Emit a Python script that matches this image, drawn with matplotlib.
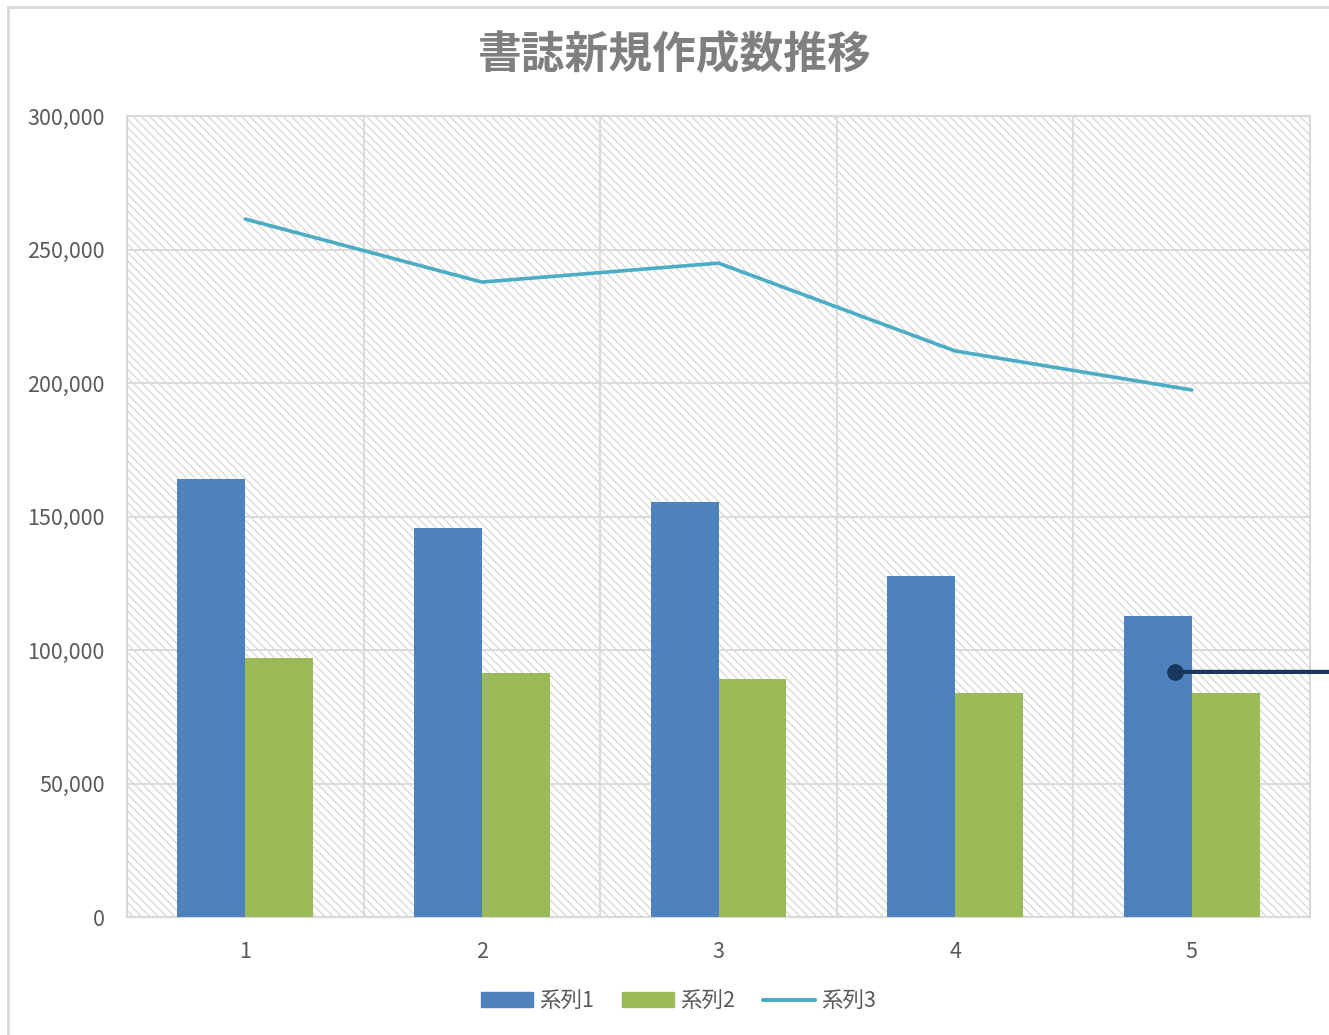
import matplotlib
matplotlib.use("Agg")
import matplotlib.pyplot as plt
import matplotlib.patches as mpatches
from matplotlib.ticker import FuncFormatter
import numpy as np

plt.rcParams['font.family'] = ['Noto Sans CJK JP', 'DejaVu Sans']
plt.rcParams['hatch.linewidth'] = 0.9
plt.rcParams['hatch.color'] = '#d6d6d6'

# data
categories = [1, 2, 3, 4, 5]
series1 = [164000, 145700, 155400, 127700, 112700]
series2 = [97000, 91400, 89100, 83900, 83900]
series3 = [261400, 237800, 244900, 212000, 197400]
labels = ["系列1", "系列2", "系列3"]
title = "書誌新規作成数推移"
callout_x, callout_y = 4.93, 91800

BLUE = '#4f81bd'
GREEN = '#9bbb59'
AQUA = '#4bacc6'
GRID = '#d9d9d9'
TEXT = '#595959'

fig = plt.figure(figsize=(13.29, 10.35), dpi=100)
ax = fig.add_axes([127 / 1329, 1 - 917 / 1035, (1310 - 127) / 1329, (917 - 116) / 1035])

# chart frame (cropped at right/bottom in the reference)
frame = mpatches.Rectangle((8 / 1329, -0.1), 1.2, 1 - 7 / 1035 + 0.1,
                           transform=fig.transFigure, fill=False,
                           edgecolor=GRID, linewidth=2, zorder=0)
fig.patches.append(frame)

# hatched plot background
ax.patch.set_facecolor('white')
ax.patch.set_hatch('\\\\\\\\')
ax.patch.set_edgecolor('#d6d6d6')

x = np.array(categories, dtype=float)
w = 0.287
ax.bar(x - w / 2, series1, width=w, color=BLUE, label=labels[0], zorder=3)
ax.bar(x + w / 2, series2, width=w, color=GREEN, label=labels[1], zorder=3)
ax.plot(x, series3, color=AQUA, linewidth=2.6, label=labels[2], zorder=4,
        solid_capstyle='round')

# leader line going out of the picture on the right
ax.annotate("", xy=(callout_x, callout_y), xycoords='data',
            xytext=(1.2, callout_y), textcoords=('axes fraction', 'data'),
            arrowprops=dict(arrowstyle='-', color='#17375e', lw=3,
                            shrinkA=0, shrinkB=0),
            annotation_clip=False, zorder=6)
ax.plot([callout_x], [callout_y], 'o', color='#17375e', markersize=11,
        zorder=7, clip_on=False)

ax.set_xlim(0.5, 5.5)
ax.set_ylim(0, 300000)
ax.set_xticks(categories)
ax.set_yticks(np.arange(0, 300001, 50000))
ax.yaxis.set_major_formatter(FuncFormatter(lambda v, p: f"{int(v):,}"))
ax.set_xticks(np.arange(1.5, 5.5, 1), minor=True)
ax.grid(True, axis='y', color=GRID, linewidth=1.3, zorder=1)
ax.grid(True, axis='x', which='minor', color=GRID, linewidth=1.3, zorder=1)
ax.set_axisbelow(True)
ax.tick_params(which='both', length=0, labelsize=15.5, colors=TEXT)
ax.tick_params(axis='y', pad=16)
ax.tick_params(axis='x', pad=17)
for s in ax.spines.values():
    s.set_color(GRID)
    s.set_linewidth(1.5)

fig.text(675 / 1329, 1 - 55 / 1035, title, ha='center', va='center',
         fontsize=31.5, fontweight='bold', color='#7f7f7f')

handles = [mpatches.Patch(color=BLUE), mpatches.Patch(color=GREEN),
           plt.Line2D([], [], color=AQUA, linewidth=3, solid_capstyle='round')]
fig.legend(handles, labels, loc='center', bbox_to_anchor=(679 / 1329, 1 - 1001 / 1035),
           ncol=3, frameon=False, fontsize=15.5, labelcolor=TEXT,
           handlelength=2.4, handleheight=0.65, handletextpad=0.3, columnspacing=1.3)

fig.savefig("out.png", dpi=100)
